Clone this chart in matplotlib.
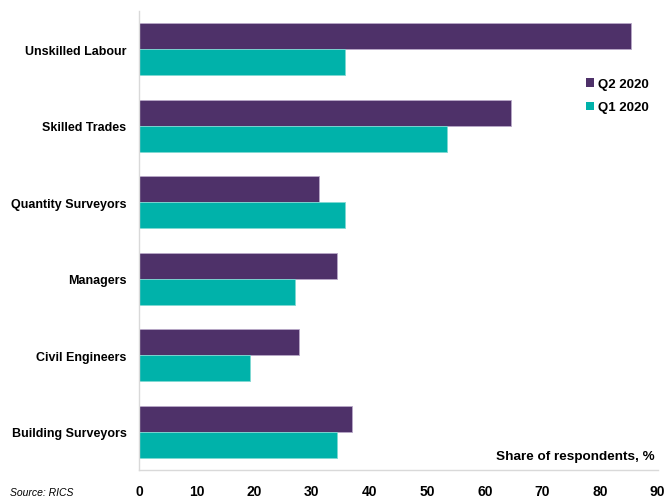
import matplotlib
matplotlib.use("Agg")
import matplotlib.pyplot as plt
from matplotlib.patches import Patch
import numpy as np

plt.rcParams['font.family'] = ['Liberation Sans', 'DejaVu Sans']

categories = ["Unskilled Labour", "Skilled Trades", "Quantity Surveyors",
              "Managers", "Civil Engineers", "Building Surveyors"]
q2_2020 = [85.4, 64.6, 31.3, 34.4, 27.7, 37.0]
q1_2020 = [35.7, 53.5, 35.7, 27.0, 19.2, 34.4]
series_labels = ["Q2 2020", "Q1 2020"]
x_ticks = [0, 10, 20, 30, 40, 50, 60, 70, 80, 90]

purple = "#4E3169"
teal = "#00B2AA"

fig = plt.figure(figsize=(6.64, 5.02), dpi=100)
ax = fig.add_axes([0.2093, 0.0618, 0.7812, 0.9142])

y = np.arange(len(categories))
h = 0.34
ax.barh(y - h / 2, q2_2020, height=h, color=purple, edgecolor="#B8A8C8", linewidth=0.6)
ax.barh(y + h / 2, q1_2020, height=h, color=teal, edgecolor="#7FD8D2", linewidth=0.6)

ax.set_ylim(len(categories) - 0.5, -0.5)
ax.set_xlim(0, 90)
ax.set_yticks(y)
ax.set_yticklabels(categories, fontsize=9, fontweight="bold")
ax.set_xticks(x_ticks)
ax.set_xticklabels([str(t) for t in x_ticks], fontsize=10, fontweight="bold")
ax.tick_params(axis="both", length=0)
ax.tick_params(axis="x", pad=10)
ax.tick_params(axis="y", pad=9)

for side in ["top", "right"]:
    ax.spines[side].set_visible(False)
for side in ["left", "bottom"]:
    ax.spines[side].set_color("#D9D9D9")
    ax.spines[side].set_linewidth(1.0)

handles = [Patch(facecolor=purple), Patch(facecolor=teal)]
ax.legend(handles, series_labels, loc="upper left",
          bbox_to_anchor=(0.851, 0.865), frameon=False,
          prop={"weight": "bold", "size": 9.5},
          handlelength=0.6, handleheight=0.6, handletextpad=0.3,
          labelspacing=0.85, borderaxespad=0)

ax.text(0.995, 0.03, "Share of respondents, %", transform=ax.transAxes,
        ha="right", va="center", fontsize=9.7, fontweight="bold")
fig.text(0.015, 0.018, "Source: RICS", ha="left", va="center",
         fontsize=7.5, style="italic")

fig.savefig("out.png", dpi=100)
